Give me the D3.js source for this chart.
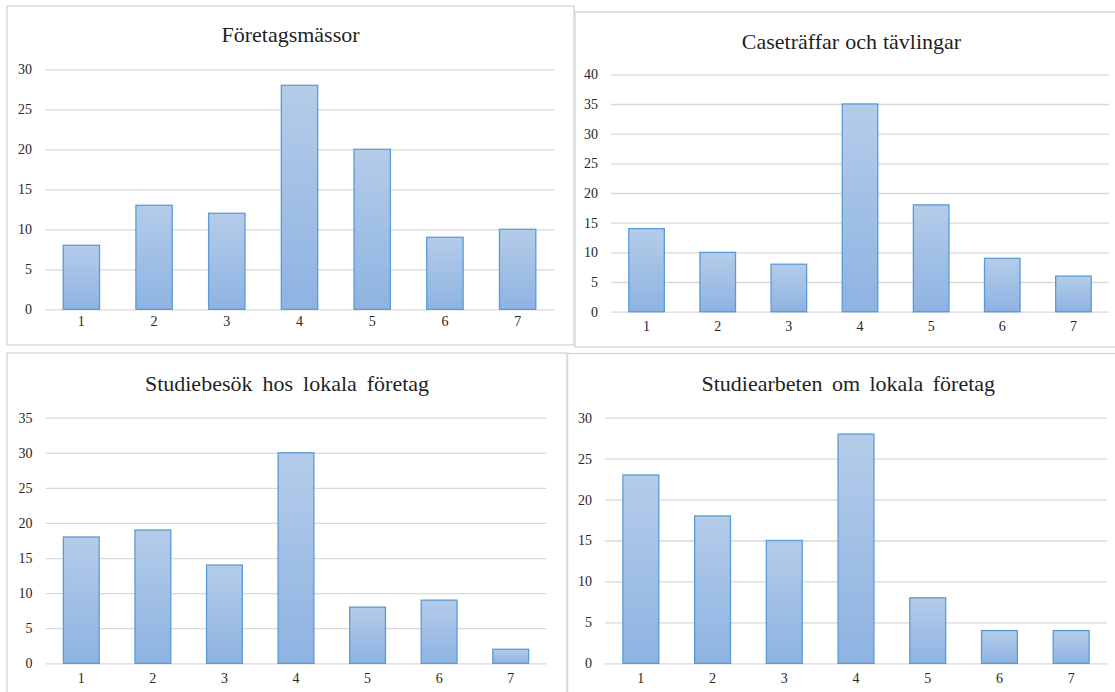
<!DOCTYPE html>
<html>
<head>
<meta charset="utf-8">
<script src="https://cdn.jsdelivr.net/npm/d3@7"></script>
<style>
  html, body { margin: 0; padding: 0; background: #fff; }
  svg { display: block; }
  .tick text { font-family: "Liberation Serif", "Times New Roman", serif; }
</style>
</head>
<body>
<svg id="chart" width="1115" height="692"></svg>
<script>
// Response categories on the 1–7 scale
const categories = ["1", "2", "3", "4", "5", "6", "7"];

// Chart titles
const titles = [
  "Företagsmässor",
  "Caseträffar och tävlingar",
  "Studiebesök hos lokala företag",
  "Studiearbeten om lokala företag"
];

// Counts per category for each activity
const foretagsmassor = [8, 13, 12, 28, 20, 9, 10];
const casetraffar = [14, 10, 8, 35, 18, 9, 6];
const studiebesok = [18, 19, 14, 30, 8, 9, 2];
const studiearbeten = [23, 18, 15, 28, 8, 4, 4];

// Y-axis tick values per chart
const ticks30 = [0, 5, 10, 15, 20, 25, 30];
const ticks40 = [0, 5, 10, 15, 20, 25, 30, 35, 40];
const ticks35 = [0, 5, 10, 15, 20, 25, 30, 35];

// Panel layout: frame box, plot area and title placement
const panels = [
  { title: titles[0], values: foretagsmassor, ticks: ticks30, yMax: 30,
    box: [7, 6, 574, 345], plot: { x0: 45, x1: 554, yTop: 69.3, yBot: 309.3 },
    titleY: 42, labelY: 325, wordSpacing: 0 },
  { title: titles[1], values: casetraffar, ticks: ticks40, yMax: 40,
    box: [575, 12, 1128, 347], plot: { x0: 611, x1: 1109, yTop: 74.3, yBot: 311.7 },
    titleY: 49, labelY: 330, wordSpacing: 0.5 },
  { title: titles[2], values: studiebesok, ticks: ticks35, yMax: 35,
    box: [7, 353, 567, 720], plot: { x0: 45.5, x1: 546.5, yTop: 417.7, yBot: 663.3 },
    titleY: 391, labelY: 682, wordSpacing: 4.5 },
  { title: titles[3], values: studiearbeten, ticks: ticks30, yMax: 30,
    box: [567.5, 353.5, 1129, 720], plot: { x0: 605, x1: 1107, yTop: 417.7, yBot: 663.3 },
    titleY: 391, labelY: 682, wordSpacing: 4 }
];

const svg = d3.select("#chart");

// Vertical gradient used for every bar
const defs = svg.append("defs");
const grad = defs.append("linearGradient")
  .attr("id", "barFill")
  .attr("x1", 0).attr("y1", 0).attr("x2", 0).attr("y2", 1);
grad.append("stop").attr("offset", "0%").attr("stop-color", "#b4cce9");
grad.append("stop").attr("offset", "100%").attr("stop-color", "#8eb3e2");

panels.forEach((p) => {
  const g = svg.append("g");

  // Chart frame
  g.append("rect")
    .attr("x", p.box[0]).attr("y", p.box[1])
    .attr("width", p.box[2] - p.box[0]).attr("height", p.box[3] - p.box[1])
    .attr("fill", "#fff")
    .attr("stroke", "#d9d9d9")
    .attr("stroke-width", 1.5);

  const x = d3.scaleBand()
    .domain(categories)
    .range([p.plot.x0, p.plot.x1])
    .paddingInner(0.5)
    .paddingOuter(0.25);

  const y = d3.scaleLinear()
    .domain([0, p.yMax])
    .range([p.plot.yBot, p.plot.yTop]);

  // Horizontal gridlines with value labels
  const yAxis = g.append("g")
    .attr("transform", `translate(${p.plot.x0},0)`)
    .call(d3.axisLeft(y)
      .tickValues(p.ticks)
      .tickSize(-(p.plot.x1 - p.plot.x0))
      .tickPadding(13)
      .tickFormat(d3.format("d")));
  yAxis.select(".domain").remove();
  yAxis.selectAll(".tick line")
    .attr("stroke", "#d9d9d9")
    .attr("stroke-width", 1.3);
  yAxis.selectAll(".tick text")
    .attr("fill", "#262626")
    .style("font-size", "14px");

  // Bars
  g.append("g")
    .selectAll("rect")
    .data(p.values)
    .join("rect")
    .attr("x", (d, i) => x(categories[i]))
    .attr("y", (d) => y(d))
    .attr("width", x.bandwidth())
    .attr("height", (d) => y(0) - y(d))
    .attr("fill", "url(#barFill)")
    .attr("stroke", "#5b9bd5")
    .attr("stroke-width", 1.3);

  // Category labels
  const xAxis = g.append("g")
    .attr("transform", `translate(0,${p.labelY - 9})`)
    .call(d3.axisBottom(x).tickSize(0).tickPadding(0));
  xAxis.select(".domain").remove();
  xAxis.selectAll(".tick text")
    .attr("fill", "#262626")
    .attr("dy", "0.71em")
    .style("font-size", "14px");

  // Title
  g.append("text")
    .attr("x", (p.box[0] + p.box[2]) / 2)
    .attr("y", p.titleY)
    .attr("text-anchor", "middle")
    .attr("fill", "#1f1f1f")
    .style("font-family", "'Liberation Serif', 'Times New Roman', serif")
    .style("font-size", "22px")
    .style("word-spacing", p.wordSpacing + "px")
    .text(p.title);
});
</script>
</body>
</html>
